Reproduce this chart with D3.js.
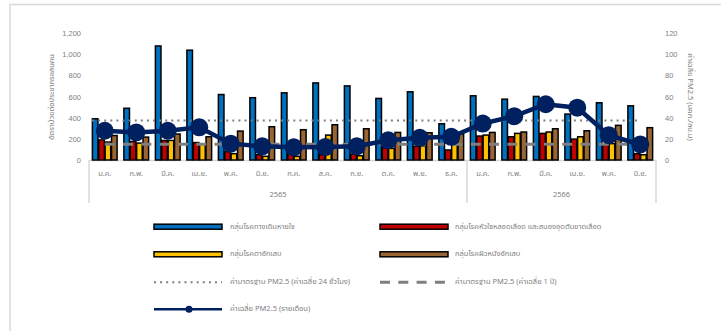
<!DOCTYPE html>
<html><head><meta charset="utf-8">
<script src="https://cdn.jsdelivr.net/npm/d3@7"></script>
<style>
html,body{margin:0;padding:0;background:#fff;}
svg{display:block;font-family:Tahoma,"Leelawadee UI","Noto Sans Thai","Noto Sans","DejaVu Sans",sans-serif;}
</style></head>
<body><svg id="c" width="721" height="331"></svg>
<script>
const months = ["ม.ค.","ก.พ.","มี.ค.","เม.ย.","พ.ค.","มิ.ย.","ก.ค.","ส.ค.","ก.ย.","ต.ค.","พ.ย.","ธ.ค.","ม.ค.","ก.พ.","มี.ค.","เม.ย.","พ.ค.","มิ.ย."];
const years = [{label:"2565", from:0, to:11},{label:"2566", from:12, to:17}];
const respiratory = [390,490,1080,1040,620,590,636,730,702,583,646,343,608,576,602,435,542,513];
const cardio      = [190,175,185,165,80,50,55,50,55,115,130,95,227,220,252,198,145,60];
const eye         = [170,160,185,150,60,35,35,236,40,110,135,150,236,252,265,220,155,50];
const skin        = [232,217,246,220,274,315,287,334,296,261,258,250,261,265,296,277,328,306];
const pmMonthly   = [27.7,26.1,27.7,31,15.5,13,12,12.3,13,18.7,21,22,34.5,41.5,52.8,49.5,23.5,14.7];
const std24h = 37.5;
const std1y = 15;
const leftTicks = [0,200,400,600,800,1000,1200];
const rightTicks = [0,20,40,60,80,100,120];
const seriesNames = ["กลุ่มโรคทางเดินหายใจ","กลุ่มโรคหัวใจหลอดเลือด และสมองอุดตันขาดเลือด","กลุ่มโรคตาอักเสบ","กลุ่มโรคผิวหนังอักเสบ"];
const lineNames = ["ค่ามาตรฐาน PM2.5 (ค่าเฉลี่ย 24 ชั่วโมง)","ค่ามาตรฐาน PM2.5 (ค่าเฉลี่ย 1 ปี)","ค่าเฉลี่ย PM2.5 (รายเดือน)"];
const leftTitle = "อัตราป่วยต่อประชากรแสนคน";
const rightTitle = "ค่าเฉลี่ย PM2.5 (มคก./ลบ.ม)";

const barColors = ["#0070C0","#C00000","#FFC000","#996633"];
const navy = "#002060";
const grey = "#7f7f7f";
const txt = "#808080";
const axisGrey = "#d9d9d9";

const svg = d3.select("#c");
svg.append("rect").attr("width",721).attr("height",331).attr("fill","#fff");
// chart border
svg.append("path").attr("d","M10,331V4.5H721").attr("fill","none").attr("stroke",axisGrey).attr("stroke-width",1.5);

const idx = d3.range(months.length);
const x0 = d3.scaleBand().domain(idx).range([89,656]).paddingInner(0.19).paddingOuter(0.095);
const x1 = d3.scaleBand().domain([0,1,2,3]).range([0,x0.bandwidth()]);
const y = d3.scaleLinear().domain([0,1200]).range([160,33.3]);
const y2 = d3.scaleLinear().domain([0,120]).range([160,33.3]);

// left axis
const gl = svg.append("g").attr("transform","translate(81,0)")
  .call(d3.axisLeft(y).tickValues(leftTicks).tickFormat(d3.format(",")).tickSize(0).tickPadding(0));
gl.select(".domain").remove();
gl.selectAll("text").attr("fill",txt).style("font-size","7.5px").style("font-family","inherit");
const gr = svg.append("g").attr("transform","translate(665,0)")
  .call(d3.axisRight(y2).tickValues(rightTicks).tickSize(0).tickPadding(0));
gr.select(".domain").remove();
gr.selectAll("text").attr("fill",txt).style("font-size","7.5px").style("font-family","inherit");

svg.append("text").attr("transform","translate(52,97) rotate(-90)").attr("text-anchor","middle")
  .attr("dominant-baseline","middle").attr("fill",txt).style("font-size","7.5px").text(leftTitle);
svg.append("text").attr("transform","translate(690,97) rotate(90)").attr("text-anchor","middle")
  .attr("dominant-baseline","middle").attr("fill",txt).style("font-size","7.5px").text(rightTitle);

// category axis
svg.append("line").attr("x1",89).attr("x2",656).attr("y1",160.5).attr("y2",160.5).attr("stroke",axisGrey).attr("stroke-width",1.5);
const bounds = [89, ...years.map(g=>x0(g.to)+x0.step()-x0.step()*0.095)];
const sepX = [89, x0(years[0].to)+x0.bandwidth()+x0.step()*0.095, 656];
sepX.forEach(sx=>svg.append("line").attr("x1",sx).attr("x2",sx).attr("y1",160).attr("y2",203).attr("stroke",axisGrey).attr("stroke-width",1.5));
svg.append("g").selectAll("text").data(idx).join("text")
  .attr("x",i=>x0(i)+x0.bandwidth()/2).attr("y",174).attr("text-anchor","middle").attr("dominant-baseline","middle")
  .attr("fill",txt).style("font-size","7.5px").text(i=>months[i]);
svg.append("g").selectAll("text").data(years).join("text")
  .attr("x",g=>(x0(g.from)+x0(g.to)+x0.bandwidth())/2).attr("y",195).attr("text-anchor","middle").attr("dominant-baseline","middle")
  .attr("fill",txt).style("font-size","7.5px").text(g=>g.label);

// bars
const seriesData = [respiratory,cardio,eye,skin];
seriesData.forEach((arr,s)=>{
  svg.append("g").selectAll("rect").data(arr).join("rect")
    .attr("x",(d,i)=>x0(i)+x1(s)+0.4).attr("width",x1.bandwidth()-0.8)
    .attr("y",d=>y(d)).attr("height",d=>y(0)-y(d))
    .attr("fill",barColors[s]).attr("stroke","#000").attr("stroke-width",1.5);
});

// standard lines
const cx = i=>x0(i)+x0.bandwidth()/2;
svg.append("line").attr("x1",92).attr("x2",cx(months.length-1)).attr("y1",y2(std24h)).attr("y2",y2(std24h))
  .attr("stroke",grey).attr("stroke-width",2).attr("stroke-dasharray","2,4.1");
svg.append("line").attr("x1",cx(0)).attr("x2",cx(months.length-1)).attr("y1",y2(std1y)).attr("y2",y2(std1y))
  .attr("stroke",grey).attr("stroke-width",3).attr("stroke-dasharray","10,8.3");

// monthly PM line
svg.append("path").datum(pmMonthly).attr("fill","none").attr("stroke",navy).attr("stroke-width",4.5)
  .attr("d",d3.line().x((d,i)=>cx(i)).y(d=>y2(d)));
svg.append("g").selectAll("circle").data(pmMonthly).join("circle")
  .attr("cx",(d,i)=>cx(i)).attr("cy",d=>y2(d)).attr("r",9).attr("fill",navy);

// legend
const rows = [226.7,254.3,282.3,309.3];
const colSym = [154,380], colTxt = [230,455], symW = 68;
const lg = svg.append("g");
seriesNames.forEach((n,s)=>{
  const c = s%2, r = Math.floor(s/2);
  lg.append("rect").attr("x",colSym[c]).attr("y",rows[r]-2.5).attr("width",symW).attr("height",5)
    .attr("fill",barColors[s]).attr("stroke","#000").attr("stroke-width",1.5);
  lg.append("text").attr("x",colTxt[c]).attr("y",rows[r]).attr("dominant-baseline","middle")
    .attr("fill",txt).style("font-size","7.5px").text(n);
});
lg.append("line").attr("x1",colSym[0]).attr("x2",colSym[0]+symW).attr("y1",rows[2]).attr("y2",rows[2])
  .attr("stroke",grey).attr("stroke-width",2).attr("stroke-dasharray","2,4.1");
lg.append("text").attr("x",colTxt[0]).attr("y",rows[2]).attr("dominant-baseline","middle").attr("fill",txt).style("font-size","7.5px").text(lineNames[0]);
lg.append("line").attr("x1",colSym[1]).attr("x2",colSym[1]+symW).attr("y1",rows[2]).attr("y2",rows[2])
  .attr("stroke",grey).attr("stroke-width",3).attr("stroke-dasharray","10,8.3");
lg.append("text").attr("x",colTxt[1]).attr("y",rows[2]).attr("dominant-baseline","middle").attr("fill",txt).style("font-size","7.5px").text(lineNames[1]);
lg.append("line").attr("x1",colSym[0]).attr("x2",colSym[0]+symW).attr("y1",rows[3]).attr("y2",rows[3])
  .attr("stroke",navy).attr("stroke-width",2.5);
lg.append("circle").attr("cx",colSym[0]+symW/2+1).attr("cy",rows[3]).attr("r",3.5).attr("fill",navy);
lg.append("text").attr("x",colTxt[0]).attr("y",rows[3]).attr("dominant-baseline","middle").attr("fill",txt).style("font-size","7.5px").text(lineNames[2]);
</script></body></html>
